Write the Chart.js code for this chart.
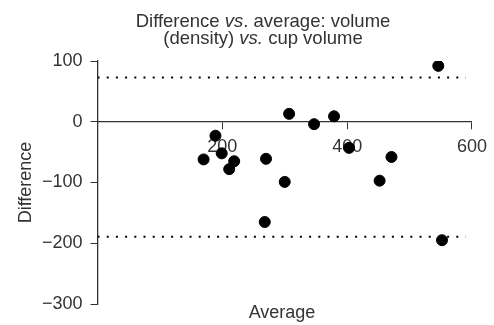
<!DOCTYPE html>
<html>
<head>
<meta charset="utf-8">
<script src="https://cdn.jsdelivr.net/npm/chart.js@4"></script>
<style>
  html, body { margin: 0; padding: 0; background: #fff; }
  #wrap { width: 494px; height: 325px; }
</style>
</head>
<body>
<div id="wrap"><canvas id="chart" width="494" height="325"></canvas></div>
<script>
// values
const averages = [170, 189, 199, 211, 219, 268, 270, 300, 307, 347, 379, 403, 452, 471, 546, 552];
const differences = [-62, -23, -52, -78, -65, -165, -61, -99, 13, -4, 9, -43, -97, -58, 92, -195];
const upperLimit = 73;
const lowerLimit = -189.5;
const limitSpan = [0, 590];
const xTicks = [0, 200, 400, 600];
const yTicks = [-300, -200, -100, 0, 100];

const FONT = '"Liberation Sans", Arial, Helvetica, sans-serif';
const TEXT = '#333';

// title with italic "vs." parts + axis titles
const textPlugin = {
  id: 'texts',
  afterDraw(chart) {
    const ctx = chart.ctx;
    const area = chart.chartArea;
    ctx.save();
    ctx.fillStyle = TEXT;
    ctx.textBaseline = 'alphabetic';
    const drawLine = (parts, cx, y) => {
      let w = 0;
      parts.forEach(p => { ctx.font = (p[1] ? 'italic ' : '') + '18.5px ' + FONT; w += ctx.measureText(p[0]).width; });
      let x = cx - w / 2;
      ctx.textAlign = 'left';
      parts.forEach(p => {
        ctx.font = (p[1] ? 'italic ' : '') + '18.5px ' + FONT;
        ctx.fillText(p[0], x, y);
        x += ctx.measureText(p[0]).width;
      });
    };
    drawLine([['Difference ', false], ['vs', true], ['. average: volume', false]], 263, 27);
    drawLine([['(density) ', false], ['vs.', true], [' cup volume', false]], 263, 44);

    ctx.font = '18px ' + FONT;
    ctx.textAlign = 'center';
    ctx.fillText('Average', 282, 318);
    ctx.translate(31, (area.top + area.bottom) / 2);
    ctx.rotate(-Math.PI / 2);
    ctx.fillText('Difference', 0, 0);
    ctx.restore();
  }
};

new Chart(document.getElementById('chart'), {
  type: 'scatter',
  data: {
    datasets: [
      {
        data: averages.map((a, i) => ({ x: a, y: differences[i] })),
        backgroundColor: '#000',
        borderColor: '#000',
        pointRadius: 5.5,
        pointHoverRadius: 5.5
      },
      {
        type: 'line',
        data: limitSpan.map(x => ({ x: x, y: upperLimit })),
        borderColor: '#000',
        borderWidth: 2,
        borderDash: [2, 7.2],
        pointRadius: 0,
        fill: false
      },
      {
        type: 'line',
        data: limitSpan.map(x => ({ x: x, y: lowerLimit })),
        borderColor: '#000',
        borderWidth: 2,
        borderDash: [2, 7.2],
        pointRadius: 0,
        fill: false
      }
    ]
  },
  options: {
    responsive: false,
    animation: false,
    layout: { padding: { left: 0, right: 22, top: 61, bottom: 21 } },
    plugins: { legend: { display: false }, tooltip: { enabled: false }, title: { display: false } },
    scales: {
      x: {
        type: 'linear',
        position: { y: 0 },
        min: 0,
        max: 600,
        afterBuildTicks: s => { s.ticks = xTicks.map(v => ({ value: v })); },
        ticks: {
          color: TEXT,
          font: { family: FONT, size: 18 },
          padding: 7,
          callback: v => (v === 0 ? '' : String(v))
        },
        grid: { drawOnChartArea: false, drawTicks: true, tickLength: 7, color: '#333' },
        border: { display: true, color: '#333', width: 1.3 }
      },
      y: {
        min: -300,
        max: 100,
        afterBuildTicks: s => { s.ticks = yTicks.map(v => ({ value: v })); },
        afterFit: s => { s.width = 97.5; },
        ticks: {
          color: TEXT,
          font: { family: FONT, size: 18 },
          padding: 8,
          callback: v => String(v).replace('-', '\u2212')
        },
        grid: { drawOnChartArea: false, drawTicks: true, tickLength: 7, color: '#333' },
        border: { display: true, color: '#333', width: 1.3 }
      }
    }
  },
  plugins: [textPlugin]
});
</script>
</body>
</html>
